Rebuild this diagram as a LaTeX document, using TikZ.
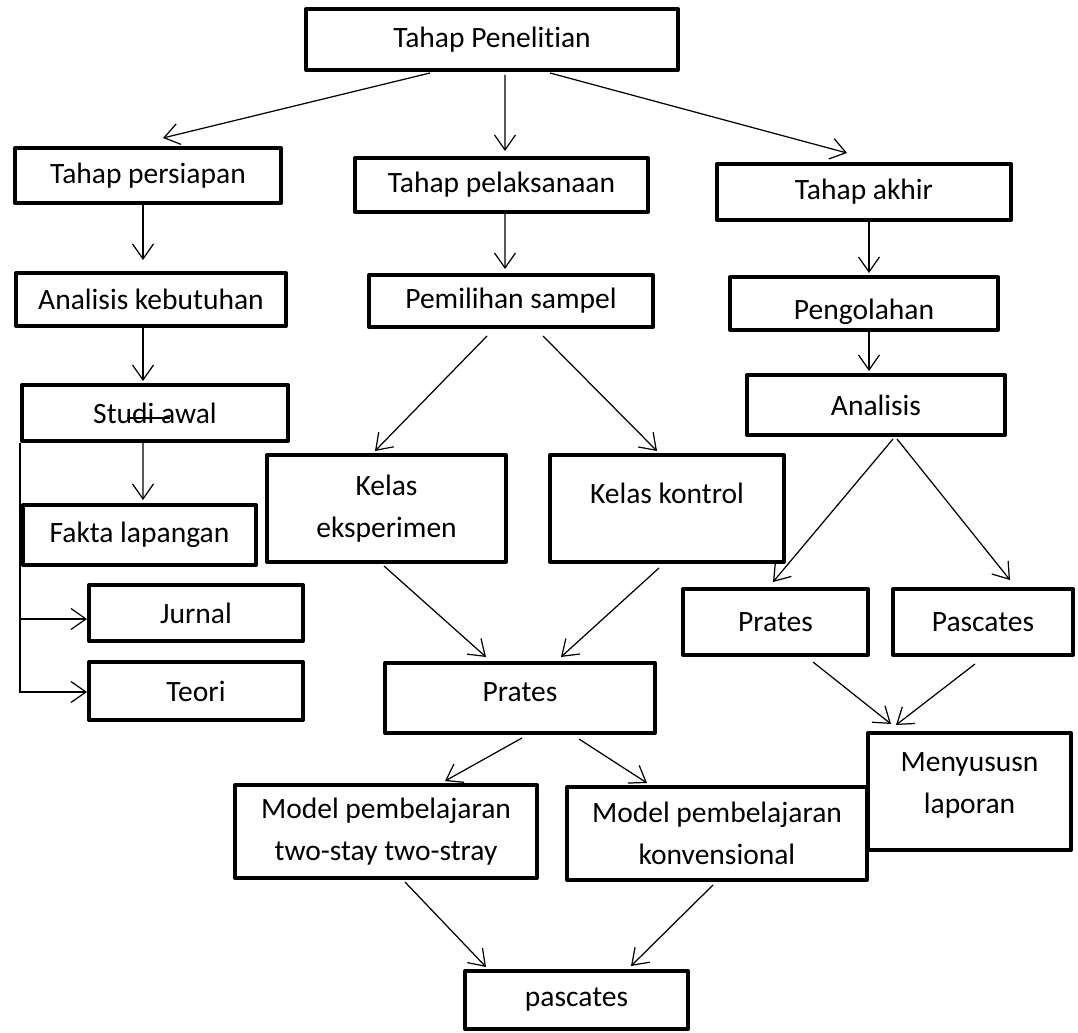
\documentclass[tikz,border=0pt]{standalone}
\usepackage{fontspec}
\setmainfont{Carlito}[Ligatures=NoCommon]
\usepackage{tikz}
\usetikzlibrary{calc,arrows.meta}

\tikzset{
	box/.style={draw, line width=0.08cm, line join=round, inner sep=0pt, align=center, font=\fontsize{16.8pt}{23.8pt}\selectfont},
	arr/.style={-{Straight Barb[length=0.3cm,width=0.42cm]}, line width=0.7pt}
}

\begin{document}
\begin{tikzpicture}[x=0.02cm, y=-0.02cm]
				\useasboundingbox (0,0) rectangle (1078,1033);
				\node[box, minimum width=7.44cm, minimum height=1.22cm] (pen) at (492,39.5) {Tahap Penelitian};
				\node[box, minimum width=5.32cm, minimum height=1.10cm] (persiapan) at (148,175.5) {Tahap persiapan};
				\node[box, minimum width=5.86cm, minimum height=1.08cm] (pelaksanaan) at (501.5,185) {Tahap pelaksanaan};
				\node[box, minimum width=5.88cm, minimum height=1.12cm] (akhir) at (864,192) {Tahap akhir};
				\node[box, minimum width=5.40cm, minimum height=1.06cm] (kebutuhan) at (151,299.5) {Analisis kebutuhan};
				\node[box, minimum width=5.68cm, minimum height=1.04cm] (sampel) at (511,301) {Pemilihan sampel};
				\node[box, minimum width=5.36cm, minimum height=1.06cm] (olah) at (864,303.5) {\raisebox{-0.16cm}[\height][\depth]{Pengolahan}};
				\node[box, minimum width=5.16cm, minimum height=1.20cm] (analisis) at (876,405) {Analisis};
				\node[box, minimum width=5.32cm, minimum height=1.12cm] (studi) at (155,413) {Studi awal};
				\node[box, minimum width=4.66cm, minimum height=1.20cm] (fakta) at (139.5,535) {Fakta lapangan};
				\node[box, minimum width=4.28cm, minimum height=1.12cm] (jurnal) at (196,613) {Jurnal};
				\node[box, minimum width=4.28cm, minimum height=1.16cm] (teori) at (196,691) {Teori};
				\node[box, minimum width=4.78cm, minimum height=2.14cm] (eksp) at (386.5,508.5) {Kelas\\eksperimen};
				\node[box, minimum width=4.68cm, minimum height=2.14cm] (kontrol) at (667,508.5) {\raisebox{0.31cm}[\height][\depth]{Kelas kontrol}};
				\node[box, minimum width=5.40cm, minimum height=1.40cm] (pratesM) at (520,698) {\raisebox{0.12cm}[\height][\depth]{Prates}};
				\node[box, minimum width=3.70cm, minimum height=1.32cm] (pratesR) at (775.5,622) {Prates};
				\node[box, minimum width=3.60cm, minimum height=1.32cm] (pascatesR) at (983,622) {Pascates};
				\node[box, minimum width=6.04cm, minimum height=1.86cm] (model1) at (386,831.5) {Model pembelajaran\\two-stay two-stray};
				\node[box, minimum width=6.00cm, minimum height=1.86cm] (model2) at (717,833.5) {Model pembelajaran\\konvensional};
				\node[box, minimum width=4.06cm, minimum height=2.34cm] (lapor) at (969.5,791.5) {\raisebox{0.14cm}[\height][\depth]{\begin{tabular}{c}Menyususn\\laporan\end{tabular}}};
				\node[box, minimum width=4.46cm, minimum height=1.16cm] (pascates) at (576.5,1000) {pascates};
				\draw[arr] ($(pen)+(-62,33.5)$) -- ($(persiapan)+(15,-37.5)$);
				\draw[arr] ($(pen)+(13,35.5)$) -- ($(pelaksanaan)+(3.5,-34)$);
				\draw[arr] ($(pen)+(58,33.5)$) -- ($(akhir)+(-17,-39)$);
				\draw[arr] ($(persiapan)+(-5,29.5)$) -- ($(kebutuhan)+(-8,-39.5)$);
				\draw[arr] ($(kebutuhan)+(-8,28.5)$) -- ($(studi)+(-12,-32)$);
				\draw[arr] ($(studi)+(-12,30)$) -- ($(fakta)+(3.5,-35)$);
				\draw[arr] (studi.south west) |- ($(teori.west)+(0,1)$);
				\draw[arr] ($(studi.south west |- jurnal.west)+(0,6)$) -- ($(jurnal.west)+(0,6)$);
				\draw[line width=0.7pt] ($(studi)+(-28,5)$) -- ($(studi)+(15,5)$);
				\draw[arr] ($(pelaksanaan)+(3.5,29)$) -- ($(sampel)+(-6,-32)$);
				\draw[arr] ($(akhir)+(5,30)$) -- ($(olah)+(5,-30.5)$);
				\draw[arr] ($(olah)+(5,24.5)$) -- ($(analisis)+(-7,-34)$);
				\draw[arr] ($(sampel)+(-24,35)$) -- ($(eksp)+(-11.5,-57.5)$);
				\draw[arr] ($(sampel)+(32,35)$) -- ($(kontrol)+(-10,-57.5)$);
				\draw[arr] ($(eksp)+(-2.5,57.5)$) -- ($(pratesM)+(-34,-41)$);
				\draw[arr] ($(kontrol)+(-8,59.5)$) -- ($(pratesM)+(41,-41)$);
				\draw[arr] ($(analisis)+(17,34)$) -- ($(pratesR)+(-2.5,-40)$);
				\draw[arr] ($(analisis)+(21,34)$) -- ($(pascatesR)+(27,-42)$);
				\draw[arr] ($(pratesR)+(37.5,40)$) -- ($(lapor)+(-78.5,-67.5)$);
				\draw[arr] ($(pascatesR)+(-8,42)$) -- ($(lapor)+(-73.5,-66.5)$);
				\draw[arr] ($(pratesM)+(2,40)$) -- ($(model1)+(59,-50.5)$);
				\draw[arr] ($(pratesM)+(59,41)$) -- ($(model2)+(-70,-50.5)$);
				\draw[arr] ($(model1)+(19,50.5)$) -- ($(pascates)+(-90.5,-33)$);
				\draw[arr] ($(model2)+(-4,51.5)$) -- ($(pascates)+(54.5,-34)$);
			\end{tikzpicture}
\end{document}
